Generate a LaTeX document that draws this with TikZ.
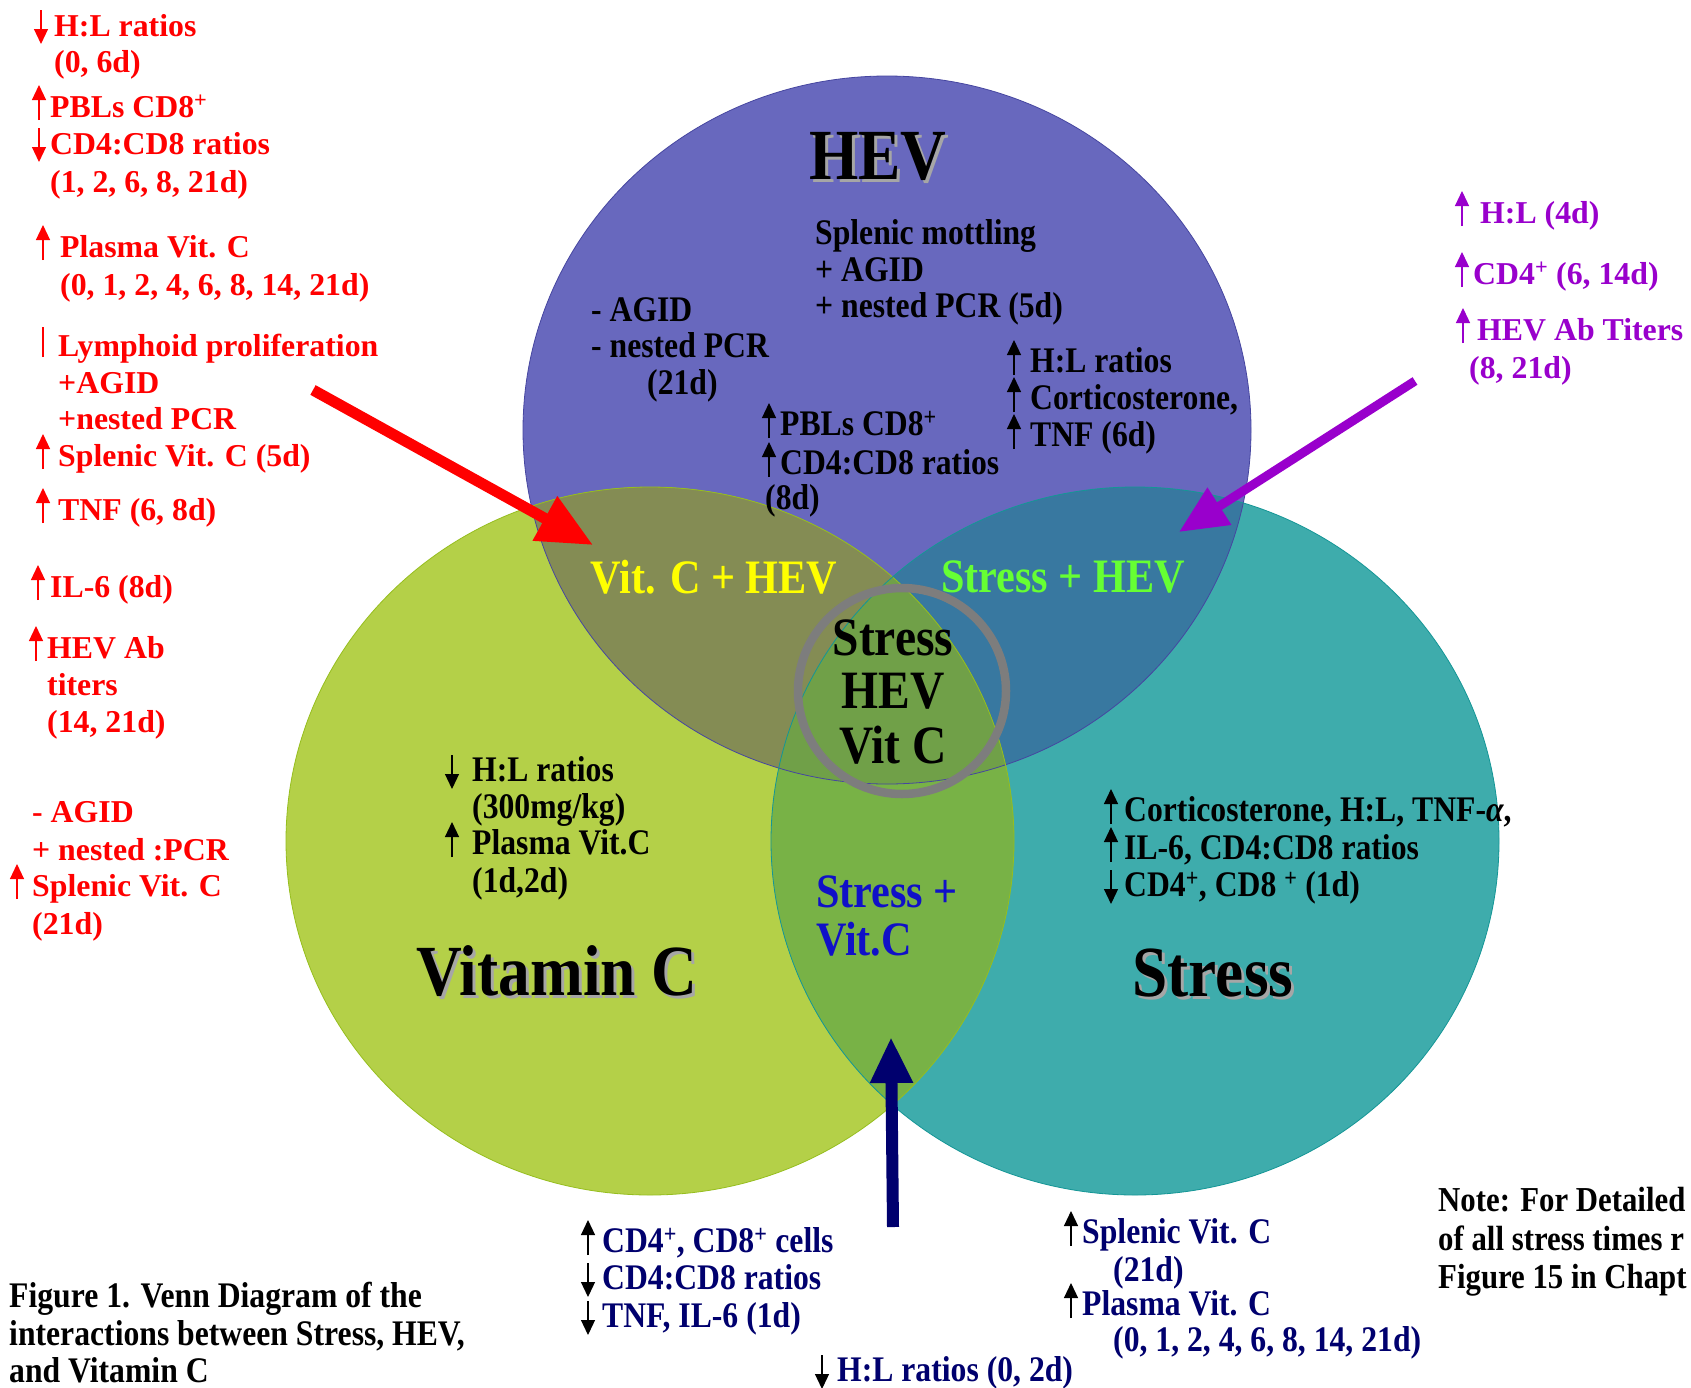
\documentclass[tikz,border=0pt]{standalone}
\usepackage{fontspec}
\setmainfont{Liberation Serif}
\newfontfamily\tallfont[FakeStretch=0.88]{Liberation Serif}
\usetikzlibrary{arrows.meta,calc}
\definecolor{hevC}{RGB}{104,104,190}
\definecolor{vitC}{RGB}{180,208,72}
\definecolor{strC}{RGB}{62,172,172}
\definecolor{vhC}{RGB}{132,140,84}
\definecolor{shC}{RGB}{56,120,160}
\definecolor{vsC}{RGB}{120,178,70}
\definecolor{allC}{RGB}{112,160,72}
\definecolor{hevE}{RGB}{70,70,160}
\definecolor{vitE}{RGB}{150,190,30}
\definecolor{strE}{RGB}{20,150,150}
\definecolor{ringC}{RGB}{125,125,125}
\definecolor{purp}{RGB}{153,0,204}
\definecolor{navyT}{RGB}{0,0,110}
\definecolor{blueT}{RGB}{16,16,200}
\definecolor{greenT}{RGB}{102,255,51}
\definecolor{yellowT}{RGB}{255,255,0}
\tikzset{
  txt/.style={anchor=base west, inner sep=0pt, font=\fontsize{31.8}{38}\selectfont\bfseries},
  ttxt/.style={anchor=base west, inner sep=0pt, font=\tallfont\fontsize{36}{38}\selectfont\bfseries},
  ntxt/.style={anchor=base west, inner sep=0pt, font=\tallfont\fontsize{35}{38}\selectfont\bfseries},
  lbl/.style={anchor=center, inner sep=0pt, font=\tallfont\fontsize{48}{50}\selectfont\bfseries},
  ctr/.style={anchor=center, inner sep=0pt, font=\tallfont\fontsize{54}{56}\selectfont\bfseries},
  title/.style={anchor=center, inner sep=0pt, font=\tallfont\fontsize{72}{76}\selectfont\bfseries},
  sarr/.style={line width=1.2pt, -{Triangle[width=14pt,length=15pt]}},
  bigarr/.style={line width=#1, -{Triangle[width=48pt,length=55pt]}},
}
\newcommand\upar[3]{\draw[sarr,#1] ($(#2.base west)+(#3,3)$) -- ++(0,-35);}
\newcommand\dnar[3]{\draw[sarr,#1] ($(#2.base west)+(#3,-26)$) -- ++(0,34);}
\def\pHEV{(887,430) ellipse [x radius=364, y radius=354]}
\def\pVIT{(650,841) ellipse [x radius=364, y radius=354]}
\def\pSTR{(1135,841) ellipse [x radius=364, y radius=354]}
\begin{document}
\begin{tikzpicture}[x=1pt,y=-1pt]
\useasboundingbox (0,0) rectangle (1691,1387);
\fill[white] (0,0) rectangle (1691,1387);
% circles
\fill[hevC] \pHEV;
\fill[vitC] \pVIT;
\fill[strC] \pSTR;
\begin{scope}\clip \pHEV; \fill[vhC] \pVIT; \fill[shC] \pSTR; \end{scope}
\begin{scope}\clip \pVIT; \fill[vsC] \pSTR; \end{scope}
\begin{scope}\clip \pVIT; \clip \pSTR; \fill[allC] \pHEV; \end{scope}
\draw[hevE, line width=0.8pt] \pHEV;
\draw[vitE, line width=0.8pt] \pVIT;
\draw[strE, line width=0.8pt] \pSTR;
\draw[ringC, line width=8.5pt] (902,691) ellipse [x radius=104, y radius=103];

% titles with shadow
\node[title, gray!70] at (881,159) {HEV};
\node[title] (tHEV) at (878,156) {HEV};
\node[title, gray!70] at (560,974) {Vitamin C};
\node[title] (tVIT) at (557,971) {Vitamin C};
\node[title, gray!70] at (1216,976) {Stress};
\node[title] (tSTR) at (1213,973) {Stress};

% region labels
\node[lbl, yellowT] (lVH) at (714,577) {Vit. C + HEV};
\node[lbl, greenT] (lSH) at (1063,577) {Stress + HEV};
\node[ctr] (c1) at (893,638) {Stress};
\node[ctr] (c2) at (893,691) {HEV};
\node[ctr] (c3) at (893,745) {Vit C};
\node[lbl, blueT, anchor=base west] (lSV1) at (816,907) {Stress +};
\node[lbl, blueT, anchor=base west] (lSV2) at (816,955) {Vit.C};

% HEV interior
\node[ttxt] (h1) at (815,244) {Splenic mottling};
\node[ttxt] (h2) at (815,281) {+ AGID};
\node[ttxt] (h3) at (815,317) {+ nested PCR (5d)};
\node[ttxt] (h4) at (591,321) {- AGID};
\node[ttxt] (h5) at (591,357) {- nested PCR};
\node[ttxt] (h6) at (647,394) {(21d)};
\node[ttxt] (h7) at (1030,372) {H:L ratios};
\node[ttxt] (h8) at (1030,409) {Corticosterone,};
\node[ttxt] (h9) at (1030,446) {TNF (6d)};
\upar{}{h7}{-16}\upar{}{h8}{-16}\upar{}{h9}{-16}
\node[ttxt] (h10) at (780,435) {PBLs CD8\textsuperscript{+}};
\node[ttxt] (h11) at (780,474) {CD4:CD8 ratios};
\node[ttxt] (h12) at (765,509) {(8d)};
\upar{}{h10}{-11}\upar{}{h11}{-11}

% Vitamin C interior
\node[ttxt] (v1) at (472,781) {H:L ratios};
\node[ttxt] (v2) at (472,818) {(300mg/kg)};
\node[ttxt] (v3) at (472,854) {Plasma Vit.C};
\node[ttxt] (v4) at (472,892) {(1d,2d)};
\dnar{}{v1}{-20}\upar{}{v3}{-20}

% Stress interior
\node[ttxt] (s1) at (1124,821) {Corticosterone, H:L, TNF-{\itshape α},};
\node[ttxt] (s2) at (1124,859) {IL-6, CD4:CD8 ratios};
\node[ttxt] (s3) at (1124,896) {CD4\textsuperscript{+}, CD8 \textsuperscript{+} (1d)};
\upar{}{s1}{-13}\upar{}{s2}{-13}\dnar{}{s3}{-13}

% left red block
\begin{scope}[every node/.style={txt, red}]
\node (r1) at (54,36) {H:L ratios};
\node (r2) at (54,72) {(0, 6d)};
\node (r3) at (50,117) {PBLs CD8\textsuperscript{+}};
\node (r4) at (50,154) {CD4:CD8 ratios};
\node (r5) at (50,192) {(1, 2, 6, 8, 21d)};
\node (r6) at (60,257) {Plasma Vit. C};
\node (r7) at (60,295) {(0, 1, 2, 4, 6, 8, 14, 21d)};
\node (r8) at (58,356) {Lymphoid proliferation};
\node (r9) at (58,393) {+AGID};
\node (r10) at (58,429) {+nested PCR};
\node (r11) at (58,466) {Splenic Vit. C (5d)};
\node (r12) at (58,520) {TNF (6, 8d)};
\node (r13) at (50,597) {IL-6 (8d)};
\node (r14) at (47,658) {HEV Ab};
\node (r15) at (47,695) {titers};
\node (r16) at (47,732) {(14, 21d)};
\node (r17) at (32,822) {- AGID};
\node (r18) at (32,860) {+ nested :PCR};
\node (r19) at (32,896) {Splenic Vit. C};
\node (r20) at (32,934) {(21d)};
\end{scope}
\dnar{red}{r1}{-13}
\upar{red}{r3}{-11}\dnar{red}{r4}{-11}
\upar{red}{r6}{-17}
\draw[red, line width=1.2pt] ($(r8.base west)+(-15,1)$) -- ++(0,-30);
\upar{red}{r11}{-15}\upar{red}{r12}{-15}
\upar{red}{r13}{-12}\upar{red}{r14}{-11}\upar{red}{r19}{-15}

% right purple block
\begin{scope}[every node/.style={txt, purp}]
\node (p1) at (1480,223) {H:L (4d)};
\node (p2) at (1473,284) {CD4\textsuperscript{+} (6, 14d)};
\node (p3) at (1477,340) {HEV Ab Titers};
\node (p4) at (1469,378) {(8, 21d)};
\end{scope}
\upar{purp}{p1}{-18}\upar{purp}{p2}{-11}\upar{purp}{p3}{-14}

% bottom navy blocks
\begin{scope}[every node/.style={ttxt, navyT}]
\node (b1) at (602,1252) {CD4\textsuperscript{+}, CD8\textsuperscript{+} cells};
\node (b2) at (602,1289) {CD4:CD8 ratios};
\node (b3) at (602,1327) {TNF, IL-6 (1d)};
\node (b4) at (837,1381) {H:L ratios (0, 2d)};
\node (e1) at (1082,1243) {Splenic Vit. C};
\node (e2) at (1113,1281) {(21d)};
\node (e3) at (1082,1315) {Plasma Vit. C};
\node (e4) at (1113,1351) {(0, 1, 2, 4, 6, 8, 14, 21d)};
\end{scope}
\upar{}{b1}{-14}\dnar{}{b2}{-14}\dnar{}{b3}{-14}\dnar{}{b4}{-15}
\upar{}{e1}{-11}\upar{}{e3}{-11}

% note and caption
\node[ntxt] (n1) at (1438,1211) {Note: For Detailed};
\node[ntxt] (n2) at (1438,1250) {of all stress times r};
\node[ntxt] (n3) at (1438,1288) {Figure 15 in Chapt};
\node[ttxt] (f1) at (9,1307) {Figure 1. Venn Diagram of the};
\node[ttxt] (f2) at (9,1345) {interactions between Stress, HEV,};
\node[ttxt] (f3) at (9,1382) {and Vitamin C};

% big arrows
\coordinate (redS) at (313,390);
\coordinate (redT) at (593,545);
\coordinate (purS) at (1415,381);
\coordinate (purT) at (1179,532);
\coordinate (navS) at (893,1227);
\coordinate (navT) at (891,1037);
\draw[bigarr=11pt, red] (redS) -- (redT);
\draw[line width=9pt, purp, -{Triangle[width=42pt,length=48pt]}] (purS) -- (purT);
\draw[line width=12pt, navyT, -{Triangle[width=40pt,length=46pt]}] (navS) -- (navT);
\end{tikzpicture}
\end{document}
